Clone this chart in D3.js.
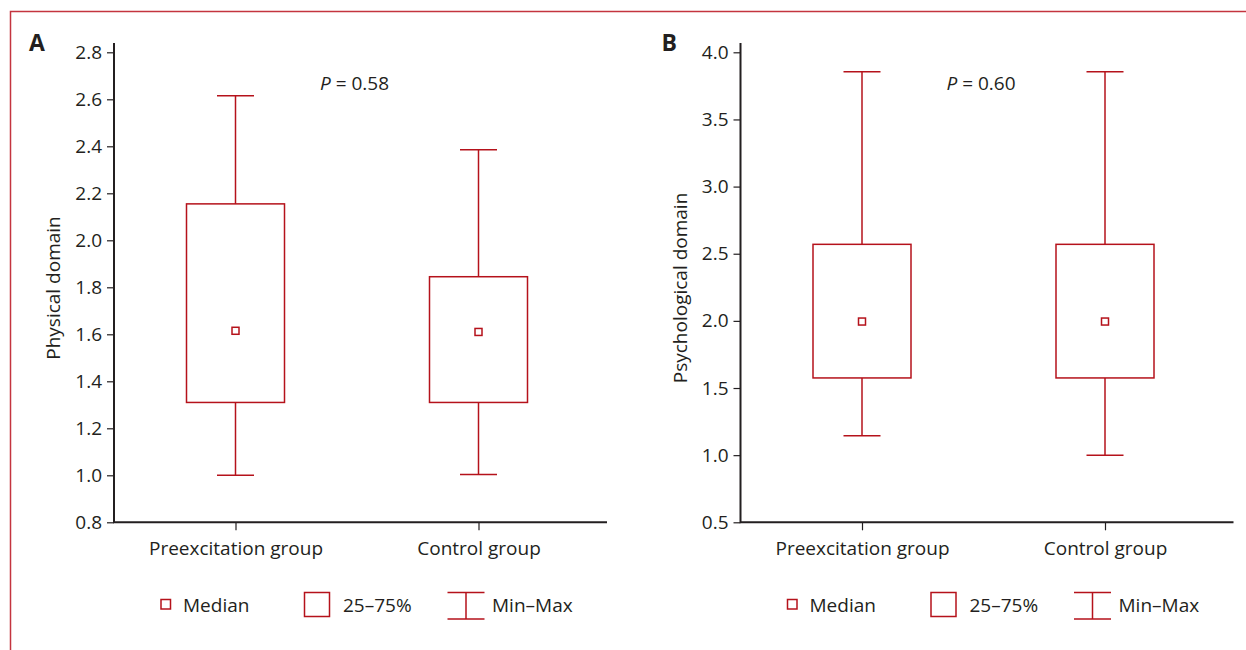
<!DOCTYPE html>
<html>
<head>
<meta charset="utf-8">
<script src="https://cdn.jsdelivr.net/npm/d3@7"></script>
<style>
  html, body { margin: 0; padding: 0; background: #fff; }
  svg text { font-family: "Open Sans", "Noto Sans", sans-serif; fill: #231f20; }
</style>
</head>
<body>
<div id="chart"></div>
<script>
// 数据
const groups = ["Preexcitation group", "Control group"];

const physMin = [1.0, 1.003];
const physQ1 = [1.31, 1.31];
const physMedian = [1.615, 1.61];
const physQ3 = [2.155, 1.845];
const physMax = [2.615, 2.385];
const physTicks = [0.8, 1.0, 1.2, 1.4, 1.6, 1.8, 2.0, 2.2, 2.4, 2.6, 2.8];

const psychMin = [1.145, 1.0];
const psychQ1 = [1.575, 1.575];
const psychMedian = [1.995, 1.995];
const psychQ3 = [2.57, 2.57];
const psychMax = [3.855, 3.855];
const psychTicks = [0.5, 1.0, 1.5, 2.0, 2.5, 3.0, 3.5, 4.0];

const panelLetters = ["A", "B"];
const axisTitles = ["Physical domain", "Psychological domain"];
const pValues = ["0.58", "0.60"];
const legendLabels = ["Median", "25\u201375%", "Min\u2013Max"];

const W = 1246, H = 650;
const red = "#b5121b";
const ink = "#231f20";
const fs = 19;

const svg = d3.select("#chart").append("svg")
    .attr("width", W)
    .attr("height", H);

// 外框（只露出上边和左边）
svg.append("rect")
    .attr("x", 10.5).attr("y", 11.5)
    .attr("width", 1400).attr("height", 800)
    .attr("fill", "none")
    .attr("stroke", "#c4343f")
    .attr("stroke-width", 1.5);

function drawPanel(i, dx, stats, ticks, fmt) {
    const top = 52.3, bottom = 522.3;
    const left = 114 + dx, right = 607 + dx;
    const g = svg.append("g");

    const y = d3.scaleLinear()
        .domain([ticks[0], ticks[ticks.length - 1]])
        .range([bottom, top]);

    const x = d3.scalePoint()
        .domain(groups)
        .range([left, 600 + dx])
        .padding(0.5);

    // 坐标轴
    const yAxis = g.append("g")
        .attr("transform", `translate(${left},0)`)
        .call(d3.axisLeft(y).tickValues(ticks).tickFormat(fmt).tickSize(7).tickPadding(5));
    yAxis.select(".domain").remove();
    yAxis.selectAll(".tick line").attr("stroke", ink).attr("stroke-width", 1.2);
    yAxis.selectAll(".tick text").attr("font-size", fs);

    const xAxis = g.append("g")
        .attr("transform", `translate(0,${bottom})`)
        .call(d3.axisBottom(x).tickSize(8).tickPadding(8));
    xAxis.select(".domain").remove();
    xAxis.selectAll(".tick line").attr("stroke", ink).attr("stroke-width", 1.2);
    xAxis.selectAll(".tick text").attr("font-size", fs).attr("dy", "0.9em");

    g.append("path")
        .attr("d", `M${left},43V${bottom}H${right}`)
        .attr("fill", "none")
        .attr("stroke", ink)
        .attr("stroke-width", 2);

    // 轴标题
    g.append("text")
        .attr("transform", `translate(${60 + dx},${288}) rotate(-90)`)
        .attr("text-anchor", "middle")
        .attr("font-size", fs)
        .text(axisTitles[i]);

    // 面板字母
    g.append("text")
        .attr("x", 29 + dx + (i ? 6 : 0)).attr("y", 51)
        .attr("font-size", 23)
        .attr("font-weight", "bold")
        .text(panelLetters[i]);

    // P 值
    const pt = g.append("text")
        .attr("x", 320 + dx).attr("y", 90)
        .attr("font-size", fs);
    pt.append("tspan").attr("font-style", "italic").text("P");
    pt.append("tspan").text(" = " + pValues[i]);

    // 箱线图
    const boxW = 98, capW = 37, medS = 7;
    groups.forEach((name, j) => {
        const cx = x(name);
        const b = g.append("g")
            .attr("fill", "none")
            .attr("stroke", red)
            .attr("stroke-width", 1.5);
        b.append("line")
            .attr("x1", cx).attr("x2", cx)
            .attr("y1", y(stats.max[j])).attr("y2", y(stats.q3[j]));
        b.append("line")
            .attr("x1", cx).attr("x2", cx)
            .attr("y1", y(stats.q1[j])).attr("y2", y(stats.min[j]));
        b.append("line")
            .attr("x1", cx - capW / 2).attr("x2", cx + capW / 2)
            .attr("y1", y(stats.max[j])).attr("y2", y(stats.max[j]));
        b.append("line")
            .attr("x1", cx - capW / 2).attr("x2", cx + capW / 2)
            .attr("y1", y(stats.min[j])).attr("y2", y(stats.min[j]));
        b.append("rect")
            .attr("x", cx - boxW / 2)
            .attr("y", y(stats.q3[j]))
            .attr("width", boxW)
            .attr("height", y(stats.q1[j]) - y(stats.q3[j]));
        b.append("rect")
            .attr("x", cx - medS / 2)
            .attr("y", y(stats.median[j]) - medS / 2)
            .attr("width", medS).attr("height", medS);
    });

    // 图例
    const lg = g.append("g")
        .attr("fill", "none")
        .attr("stroke", red)
        .attr("stroke-width", 1.5);
    lg.append("rect")
        .attr("x", 161 + dx).attr("y", 599.5)
        .attr("width", 9.5).attr("height", 9.5);
    lg.append("rect")
        .attr("x", 304.5 + dx).attr("y", 592.5)
        .attr("width", 25).attr("height", 24);
    lg.append("path")
        .attr("d", `M${447.5 + dx},592.5H${484.5 + dx}M${466 + dx},592.5V619M${447.5 + dx},619H${484.5 + dx}`);

    const lx = [183, 343, 492];
    legendLabels.forEach((t, k) => {
        g.append("text")
            .attr("x", lx[k] + dx).attr("y", 612)
            .attr("font-size", fs)
            .text(t);
    });
}

drawPanel(0, 0,
    { min: physMin, q1: physQ1, median: physMedian, q3: physQ3, max: physMax },
    physTicks, d3.format(".1f"));
drawPanel(1, 626.5,
    { min: psychMin, q1: psychQ1, median: psychMedian, q3: psychQ3, max: psychMax },
    psychTicks, d3.format(".1f"));
</script>
</body>
</html>
